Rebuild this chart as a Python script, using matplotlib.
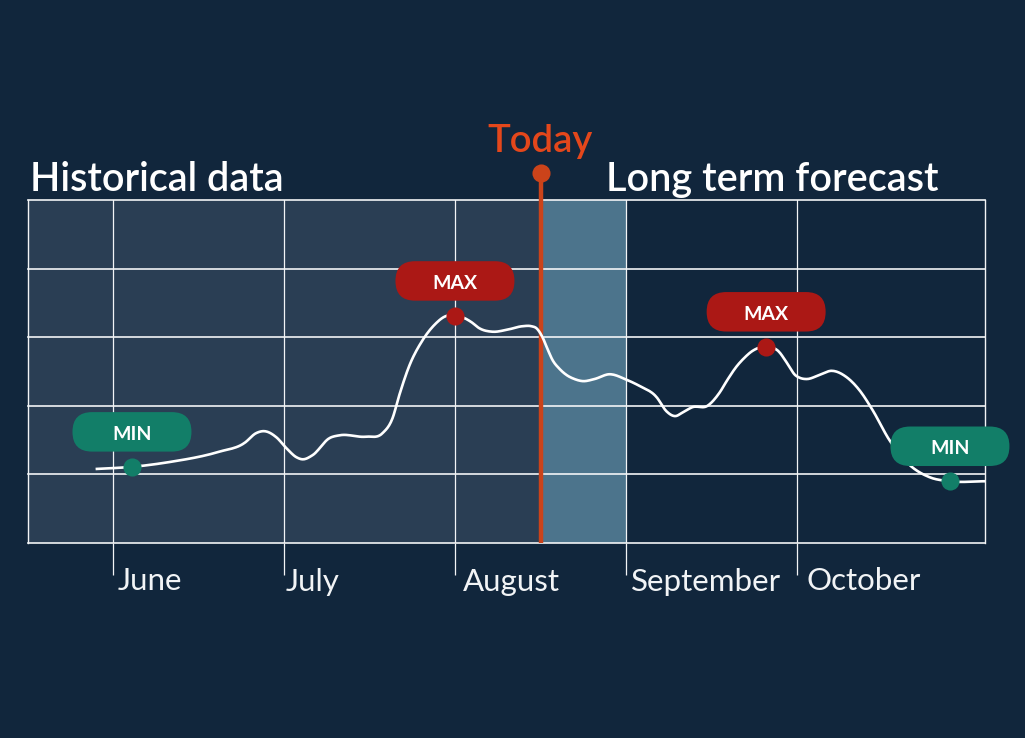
import matplotlib
matplotlib.use("Agg")
import numpy as np
import matplotlib.pyplot as plt
from matplotlib.patches import FancyBboxPatch

plt.rcParams['font.family'] = ['Lato', 'DejaVu Sans']

# x is in months after the June tick, y is in grid bands from the bottom
months = ['June', 'July', 'August', 'September', 'October']
month_ticks = [0, 1, 2, 3, 4]
label_offsets = [3.5, 1.5, 5.5, 3.5, 7]
bands = [0, 1, 2, 3, 4, 5]
today = 2.505
forecast_edge = 3.0

curve_x = [-0.094, 0.111, 0.330, 0.620, 0.770, 0.836, 0.886, 0.956, 1.015, 1.073, 1.108, 1.167,
           1.267, 1.325, 1.480, 1.576, 1.635, 1.675, 1.734, 1.804, 1.880, 1.950, 2.000, 2.044,
           2.096, 2.143, 2.219, 2.307, 2.395, 2.447, 2.477, 2.512, 2.541, 2.570, 2.611, 2.652,
           2.699, 2.746, 2.816, 2.904, 3.003, 3.079, 3.178, 3.237, 3.289, 3.330, 3.389, 3.477,
           3.547, 3.594, 3.646, 3.693, 3.740, 3.820, 3.898, 3.927, 3.956, 3.985, 4.015, 4.056,
           4.132, 4.202, 4.289, 4.365, 4.442, 4.541, 4.658, 4.775, 4.895, 5.100]
curve_y = [1.08, 1.11, 1.18, 1.33, 1.46, 1.60, 1.63, 1.54, 1.38, 1.25, 1.22, 1.28,
           1.53, 1.57, 1.55, 1.60, 1.82, 2.16, 2.59, 2.93, 3.18, 3.31, 3.31, 3.29,
           3.22, 3.13, 3.08, 3.11, 3.16, 3.16, 3.13, 3.00, 2.83, 2.67, 2.54, 2.45,
           2.39, 2.36, 2.39, 2.46, 2.38, 2.29, 2.13, 1.92, 1.85, 1.90, 1.98, 2.00,
           2.19, 2.38, 2.57, 2.70, 2.80, 2.86, 2.78, 2.68, 2.57, 2.46, 2.41, 2.39,
           2.45, 2.51, 2.42, 2.23, 1.94, 1.50, 1.14, 0.96, 0.90, 0.90]

marker_labels = ['MIN', 'MAX', 'MAX', 'MIN']
marker_x = [0.111, 2.000, 3.820, 4.895]
marker_y = [1.11, 3.31, 2.86, 0.90]

BG = '#11263c'
HIST = '#2a3e54'
NEAR = '#4c748c'
GRID = '#f2f4f6'
ORANGE = '#cb431a'
RED = '#ab1815'
GREEN = '#127e68'


def smooth(xs, ys, steps=12):
    """ draws the read points as a curve: cubic pieces through each of them """
    xs = np.array(xs)
    ys = np.array(ys)
    slopes = np.gradient(ys, xs)
    out_x = []
    out_y = []
    for i in range(len(xs) - 1):
        h = xs[i + 1] - xs[i]
        t = np.linspace(0, 1, steps, endpoint=False)
        out_x.append(xs[i] + t * h)
        out_y.append((2*t**3 - 3*t**2 + 1) * ys[i] + (t**3 - 2*t**2 + t) * h * slopes[i]
                     + (-2*t**3 + 3*t**2) * ys[i + 1] + (t**3 - t**2) * h * slopes[i + 1])
    out_x.append(xs[-1:])
    out_y.append(ys[-1:])
    return np.concatenate(out_x), np.concatenate(out_y)


fig = plt.figure(figsize=(10.25, 7.38), dpi=100, facecolor=BG)
ax = fig.add_axes([27.5 / 1025, 1 - 543 / 738, 957.5 / 1025, 343 / 738], facecolor=BG)
ax.set_xlim(-0.5, 5.1)
ax.set_ylim(0, 5)

ax.axvspan(-0.5, today, color=HIST, lw=0, zorder=1)
ax.axvspan(today, forecast_edge, color=NEAR, lw=0, zorder=1)

for b in bands:
    ax.axhline(b, color=GRID, lw=1.2, zorder=2, clip_on=False)
ax.axvline(-0.5, color=GRID, lw=1.0, zorder=2, clip_on=False)
ax.axvline(5.1, color=GRID, lw=1.0, zorder=2, clip_on=False)
for m in month_ticks:
    ax.axvline(m, color=GRID, lw=0.9, zorder=2)

for s in ax.spines.values():
    s.set_visible(False)
ax.set_yticks([])
ax.set_xticks(month_ticks)
ax.set_xticklabels([])
ax.tick_params(axis='x', length=23, width=0.9, color=GRID)

for m, name, off in zip(month_ticks, months, label_offsets):
    ax.annotate(name, xy=(m, 0), xytext=(off, -47.5 * 0.72), textcoords='offset points',
                color=GRID, fontsize=22.5, ha='left', va='baseline')

# today marker sticks out above the plot
ax.plot([today, today], [0, 5.4], color=ORANGE, lw=3.2, zorder=3, clip_on=False, solid_capstyle='butt')
ax.scatter([today], [5.4], s=170, color=ORANGE, lw=0, zorder=3, clip_on=False)

line_x, line_y = smooth(curve_x, curve_y)
ax.plot(line_x, line_y, color='white', lw=1.9, zorder=4, solid_joinstyle='round')

pill_w = 119 / 171
pill_h = 39.5 / 68.6
lift = 35 / 68.6
for name, x, y in zip(marker_labels, marker_x, marker_y):
    col = GREEN if name == 'MIN' else RED
    ax.scatter([x], [y], s=170, color=col, lw=0, zorder=5, clip_on=False)
    pill = FancyBboxPatch((x - pill_w / 2, y + lift - pill_h / 2), pill_w, pill_h,
                          boxstyle='round,pad=0,rounding_size=0.115', mutation_aspect=171 / 68.6,
                          fc=col, ec='none', zorder=6, clip_on=False)
    ax.add_patch(pill)
    ax.text(x, y + lift - 0.015, name, color='white', fontsize=14, fontweight='bold',
            ha='center', va='center_baseline', zorder=7)

fig.text(29.5 / 1025, 1 - 191 / 738, 'Historical data', color='white', fontsize=28.5, fontweight='semibold', va='baseline')
fig.text(606.5 / 1025, 1 - 191 / 738, 'Long term forecast', color='white', fontsize=28.5, fontweight='semibold', va='baseline')
fig.text(540 / 1025, 1 - 152 / 738, 'Today', color='#e4471b', fontsize=27.5, fontweight='semibold', ha='center', va='baseline')

fig.savefig('out.png', dpi=100, facecolor=BG)
